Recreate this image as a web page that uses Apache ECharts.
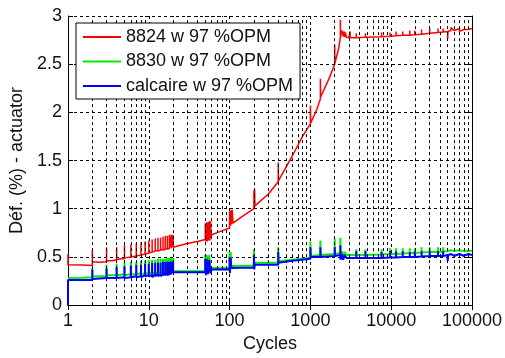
<!DOCTYPE html>
<html><head><meta charset="utf-8">
<script src="https://cdn.jsdelivr.net/npm/echarts@6/dist/echarts.min.js"></script>
<style>html,body{margin:0;padding:0;background:#fff}#c{width:505px;height:358px}</style>
</head><body><div id="c"></div>
<script>
const seriesNames = ['8824 w 97 %OPM', '8830 w 97 %OPM', 'calcaire w 97 %OPM'];
const xTickLabels = ['1','10','100','1000','10000','100000'];
const yTickLabels = ['0','0.5','1','1.5','2','2.5','3'];
const minorGridX = [2,3,4,5,6,7,8,9,20,30,40,50,60,70,80,90,200,300,400,500,600,700,800,900,
  2000,3000,4000,5000,6000,7000,8000,9000,20000,30000,40000,50000,60000,70000,80000,90000];

const red8824 = [[1,0.42],[1,0.53],[1,0.42],[1.5,0.415],[2,0.41],[2,0.57],[2,0.45],[2.5,0.445],[3,0.45],[3,0.60],[3,0.46],[3.5,0.46],[4,0.47],[4,0.60],[4,0.47],[4.5,0.48],[5,0.48],[5,0.62],[5,0.49],[6,0.50],[6,0.63],[6,0.50],[7,0.51],[7,0.64],[7,0.51],[8,0.52],[8,0.65],[8,0.52],[9,0.53],[9,0.66],[9,0.53],[10,0.54],[10,0.67],[10,0.54],[11,0.55],[11,0.68],[11,0.55],[12,0.56],[12,0.69],[12,0.56],[13,0.57],[13,0.70],[13,0.56],[14,0.57],[14,0.70],[14,0.57],[15,0.58],[15,0.71],[15,0.57],[16,0.58],[16,0.72],[16,0.58],[17,0.59],[17,0.72],[17,0.58],[18,0.59],[18,0.73],[18,0.59],[19,0.60],[19,0.73],[19,0.59],[20,0.60],[20,0.73],[20,0.60],[30,0.64],[40,0.66],[50,0.68],[50,0.85],[51,0.66],[52,0.86],[53,0.66],[54,0.86],[55,0.67],[56,0.87],[57,0.67],[58,0.87],[59,0.70],[60,0.73],[80,0.77],[100,0.80],[100,0.97],[101,0.82],[102,0.98],[103,0.83],[105,0.99],[106,0.84],[108,0.99],[110,0.85],[150,0.93],[200,1.0],[200,1.19],[202,1.02],[204,1.2],[206,1.03],[300,1.15],[400,1.28],[400,1.48],[402,1.29],[600,1.55],[800,1.75],[1000,1.88],[1000,2.07],[1010,1.89],[1200,2.03],[1330,2.14],[1330,2.35],[1340,2.16],[1700,2.35],[2000,2.5],[2000,2.7],[2010,2.51],[2250,2.67],[2350,2.78],[2350,2.96],[2360,2.78],[2450,2.85],[2550,2.79],[2600,2.84],[2650,2.78],[2700,2.83],[2800,2.78],[3000,2.775],[3100,2.775],[3100,2.84],[3110,2.775],[3700,2.775],[3700,2.82],[3710,2.775],[4800,2.78],[4800,2.82],[4810,2.78],[7600,2.785],[7600,2.83],[7610,2.785],[9700,2.79],[9700,2.83],[9710,2.79],[11500,2.795],[11500,2.84],[11510,2.795],[13900,2.80],[13900,2.84],[13910,2.80],[17000,2.80],[17000,2.85],[17010,2.80],[19600,2.805],[19600,2.85],[19610,2.805],[23800,2.81],[23800,2.86],[23810,2.81],[30000,2.82],[30000,2.87],[30100,2.82],[38000,2.83],[38000,2.87],[38100,2.83],[44000,2.835],[44000,2.87],[44100,2.835],[50000,2.84],[50000,2.76],[50500,2.84],[55000,2.85],[55000,2.88],[60000,2.85],[60000,2.83],[65000,2.86],[70000,2.87],[70000,2.84],[80000,2.86],[80000,2.88],[90000,2.86],[90000,2.84],[100000,2.87]];

const green8830 = [[1,0.28],[1.5,0.285],[2,0.29],[2,0.38],[2,0.30],[3,0.30],[3,0.42],[3,0.31],[4,0.31],[4,0.43],[4,0.31],[5,0.32],[5,0.44],[5,0.31],[6,0.32],[6,0.45],[6,0.32],[7,0.32],[7,0.45],[7,0.32],[8,0.33],[8,0.46],[8,0.32],[9,0.33],[9,0.46],[9,0.33],[10,0.33],[10,0.47],[10,0.33],[11,0.34],[11,0.47],[11,0.33],[12,0.34],[12,0.47],[12,0.33],[13,0.34],[13,0.48],[13,0.33],[14,0.34],[14,0.48],[14,0.34],[15,0.34],[15,0.48],[15,0.34],[16,0.35],[16,0.48],[16,0.34],[17,0.35],[17,0.49],[17,0.34],[18,0.35],[18,0.49],[18,0.34],[19,0.35],[19,0.49],[19,0.35],[20,0.35],[20,0.49],[20,0.35],[50,0.35],[50,0.52],[51,0.34],[52,0.52],[54,0.34],[56,0.52],[58,0.35],[60,0.385],[100,0.385],[100,0.55],[101,0.36],[103,0.55],[105,0.405],[200,0.41],[200,0.58],[202,0.38],[204,0.44],[400,0.44],[400,0.60],[402,0.455],[600,0.47],[1000,0.49],[1000,0.66],[1010,0.51],[1330,0.52],[1330,0.67],[1340,0.52],[2000,0.53],[2000,0.69],[2010,0.53],[2350,0.54],[2350,0.70],[2360,0.50],[2450,0.56],[2550,0.50],[2650,0.55],[2800,0.52],[3000,0.52],[3700,0.52],[3700,0.58],[3710,0.52],[4800,0.52],[4800,0.58],[4810,0.52],[7600,0.525],[7600,0.58],[7610,0.525],[9700,0.53],[9700,0.59],[9710,0.53],[11500,0.53],[11500,0.59],[11510,0.53],[13900,0.535],[13900,0.59],[13910,0.535],[17000,0.54],[17000,0.59],[17010,0.54],[19600,0.54],[19600,0.59],[19610,0.54],[23800,0.545],[23800,0.6],[23810,0.545],[30000,0.55],[30000,0.6],[30100,0.55],[38000,0.55],[38000,0.6],[38100,0.55],[44000,0.555],[44000,0.6],[44100,0.555],[50000,0.56],[55000,0.57],[60000,0.56],[70000,0.57],[80000,0.56],[100000,0.565]];

const blueCalcaire = [[1,0],[1,0.26],[1.5,0.26],[2,0.26],[2,0.37],[2,0.27],[3,0.28],[3,0.38],[3,0.28],[4,0.28],[4,0.39],[4,0.28],[5,0.29],[5,0.40],[5,0.28],[6,0.29],[6,0.41],[6,0.29],[7,0.30],[7,0.42],[7,0.29],[8,0.30],[8,0.42],[8,0.29],[9,0.31],[9,0.43],[9,0.30],[10,0.31],[10,0.43],[10,0.30],[11,0.31],[11,0.44],[11,0.29],[12,0.32],[12,0.44],[12,0.30],[13,0.32],[13,0.44],[13,0.30],[14,0.32],[14,0.44],[14,0.30],[15,0.32],[15,0.45],[15,0.31],[16,0.33],[16,0.45],[16,0.31],[17,0.33],[17,0.45],[17,0.31],[18,0.33],[18,0.45],[18,0.31],[19,0.33],[19,0.45],[19,0.32],[20,0.33],[20,0.45],[20,0.34],[50,0.34],[50,0.48],[51,0.31],[52,0.48],[54,0.32],[56,0.47],[58,0.33],[60,0.37],[100,0.37],[100,0.50],[101,0.33],[103,0.49],[105,0.385],[200,0.39],[200,0.52],[202,0.37],[204,0.42],[400,0.42],[400,0.55],[402,0.44],[600,0.46],[1000,0.48],[1000,0.60],[1010,0.50],[1330,0.50],[1330,0.60],[1340,0.50],[2000,0.51],[2000,0.60],[2010,0.51],[2350,0.52],[2350,0.62],[2360,0.47],[2450,0.53],[2550,0.47],[2650,0.52],[2800,0.49],[3000,0.49],[3700,0.49],[3700,0.56],[3710,0.49],[4800,0.49],[4800,0.56],[4810,0.49],[7600,0.49],[7600,0.55],[7610,0.49],[9700,0.495],[9700,0.56],[9710,0.495],[11500,0.495],[11500,0.56],[11510,0.495],[13900,0.50],[13900,0.56],[13910,0.50],[17000,0.50],[17000,0.55],[17010,0.50],[19600,0.50],[19600,0.56],[19610,0.50],[23800,0.505],[23800,0.56],[23810,0.505],[30000,0.51],[30000,0.56],[30100,0.51],[38000,0.51],[38000,0.56],[38100,0.51],[44000,0.51],[44000,0.56],[44100,0.51],[50000,0.52],[50000,0.46],[51000,0.52],[55000,0.53],[60000,0.51],[70000,0.53],[80000,0.51],[90000,0.53],[100000,0.52]];

const FONT = 'Liberation Sans, Arial, sans-serif';
const dash = {color:'#000', width:1, type:[3,3]};
const chart = echarts.init(document.getElementById('c'), null, {renderer:'canvas'});
const xBase = {type:'log', logBase:10, min:1, max:100000, splitNumber:5};
const yBase = {type:'value', min:0, max:3, interval:0.5};
chart.setOption({
  animation:false,
  backgroundColor:'#fff',
  grid:{left:68, right:31, top:16, bottom:45, containLabel:false},
  legend:{
    orient:'vertical', left:76, top:23, z:100, zlevel:1,
    data:seriesNames,
    icon:'rect', itemWidth:38, itemHeight:2, itemGap:4.5,
    padding:[4,7,3,7],
    backgroundColor:'#fff', borderColor:'#000', borderWidth:1, borderRadius:0,
    textStyle:{fontFamily:FONT, fontSize:18, color:'#111', lineHeight:20},
    selectedMode:false
  },
  xAxis:[
    Object.assign({}, xBase, {
      position:'bottom',
      name:'Cycles', nameLocation:'middle', nameGap:25,
      nameTextStyle:{fontFamily:FONT, fontSize:18, color:'#111'},
      axisLine:{lineStyle:{color:'#000', width:1}},
      axisTick:{inside:true, length:5, lineStyle:{color:'#000'}},
      axisLabel:{fontFamily:FONT, fontSize:18, color:'#111', margin:7,
        formatter:function(v){ const i = Math.round(Math.log10(v)); return xTickLabels[i] !== undefined ? xTickLabels[i] : ''; }},
      splitLine:{show:true, lineStyle:dash}
    }),
    Object.assign({}, xBase, {
      position:'top',
      axisLine:{lineStyle:{color:'#000', width:1}},
      axisTick:{inside:true, length:5, lineStyle:{color:'#000'}},
      axisLabel:{show:false}, splitLine:{show:false}
    })
  ],
  yAxis:[
    Object.assign({}, yBase, {
      position:'left',
      name:'Déf. (%) - actuator', nameLocation:'middle', nameGap:38,
      nameTextStyle:{fontFamily:FONT, fontSize:18, color:'#111'},
      axisLine:{show:true, lineStyle:{color:'#000', width:1}},
      axisTick:{show:true, inside:true, length:5, lineStyle:{color:'#000'}},
      axisLabel:{fontFamily:FONT, fontSize:18, color:'#111', margin:6,
        formatter:function(v){ const i = Math.round(v/0.5); return yTickLabels[i] !== undefined ? yTickLabels[i] : ''; }},
      splitLine:{show:true, lineStyle:dash}
    }),
    Object.assign({}, yBase, {
      position:'right',
      axisLine:{show:true, lineStyle:{color:'#000', width:1}},
      axisTick:{show:true, inside:true, length:5, lineStyle:{color:'#000'}},
      axisLabel:{show:false}, splitLine:{show:false}
    })
  ],
  series:[
    {type:'line', name:'minor-grid', data:[[1,0]], symbol:'none', lineStyle:{opacity:0}, z:1, silent:true,
      markLine:{silent:true, symbol:['none','none'], label:{show:false}, animation:false,
        lineStyle:{color:'#000', width:1, type:[3,3]},
        data:minorGridX.map(v => ({xAxis:v}))}},
    {type:'line', name:seriesNames[0], data:red8824, symbol:'none', color:'#ff0000', lineStyle:{width:1.5, color:'#ff0000'}, z:3},
    {type:'line', name:seriesNames[1], data:green8830, symbol:'none', color:'#00ee00', lineStyle:{width:2, color:'#00ee00'}, z:4},
    {type:'line', name:seriesNames[2], data:blueCalcaire, symbol:'none', color:'#0000ff', lineStyle:{width:2, color:'#0000ff'}, z:5}
  ]
});
</script>
</body></html>
